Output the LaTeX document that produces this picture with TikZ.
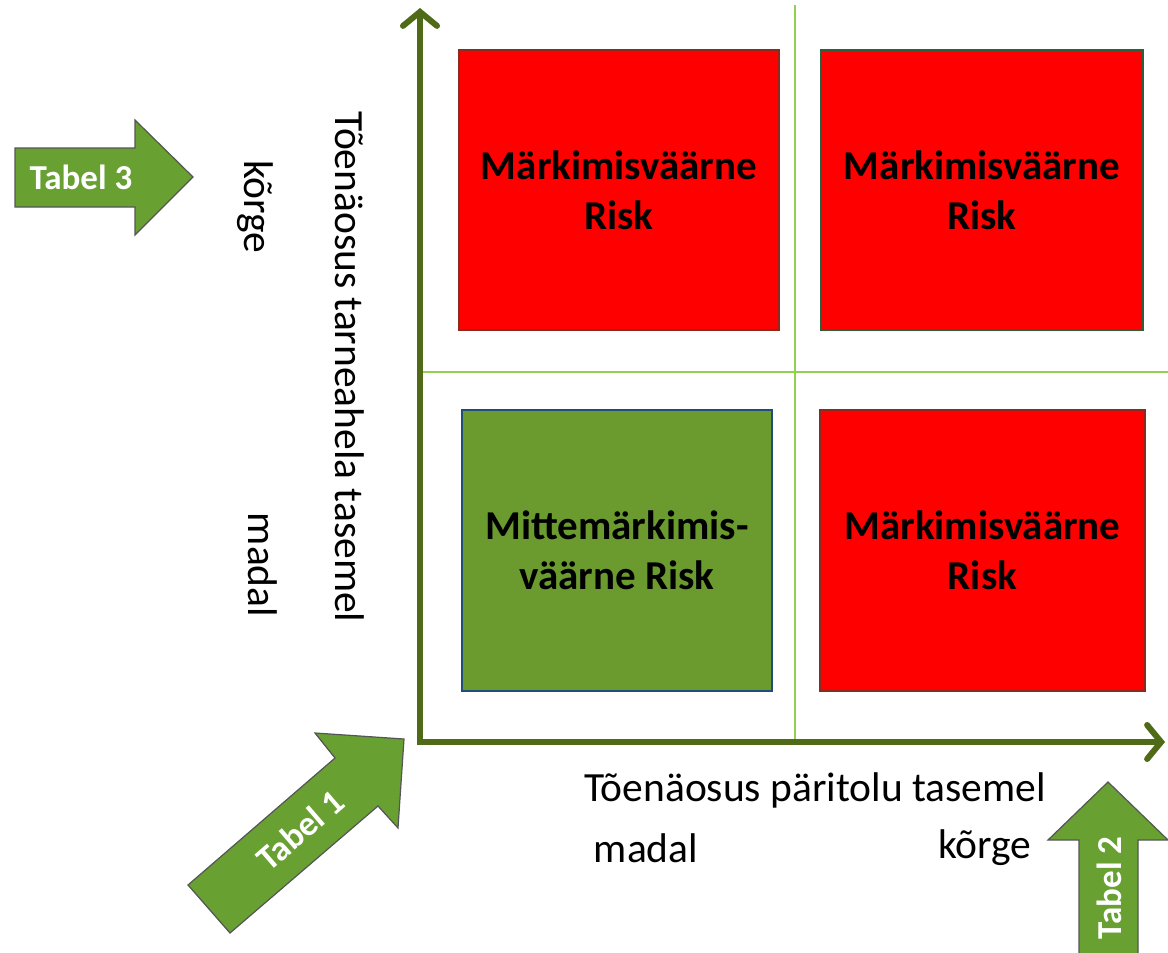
\documentclass[tikz,border=0pt]{standalone}
\usepackage{fontspec}
\setmainfont{Carlito}
\usetikzlibrary{arrows.meta}
\definecolor{axisgreen}{HTML}{4F6B17}
\definecolor{gridgreen}{HTML}{92D050}
\definecolor{boxred}{HTML}{FF0000}
\definecolor{rededge}{HTML}{8B2A20}
\definecolor{tealedge}{HTML}{2E5E3E}
\definecolor{boxgreen}{HTML}{6B9B2F}
\definecolor{blueedge}{HTML}{1F4E79}
\definecolor{arrowfill}{HTML}{68A032}
\definecolor{arrowedge}{HTML}{555555}
\tikzset{
  riskbox/.style={draw, line width=1.5pt, inner sep=0pt, align=center,
    font=\bfseries\fontsize{41}{50}\selectfont},
  axisline/.style={draw=axisgreen, line width=6pt,
    -{Straight Barb[length=14pt, width=34pt, line cap=round, line width=6pt]}},
  gridline/.style={draw=gridgreen, line width=1.2pt},
  bigarrow/.style={fill=arrowfill, draw=arrowedge, line width=1.2pt, line join=miter},
  arrowtext/.style={text=white, font=\bfseries\fontsize{35}{38}\selectfont},
  axislabel/.style={font=\fontsize{41.5}{46}\selectfont}
}
\begin{document}
\begin{tikzpicture}[x=1pt,y=-1pt]
\useasboundingbox (0,0) rectangle (1168,953);
% grid lines
\coordinate (gvtop) at (795,5);
\coordinate (gvbot) at (795,742);
\coordinate (ghl) at (420,372);
\coordinate (ghr) at (1168,372);
\draw[gridline] (gvtop) -- (gvbot);
\draw[gridline] (ghl) -- (ghr);
% boxes
\node[riskbox, fill=boxred, draw=rededge, minimum width=320pt, minimum height=280pt] (tl) at (619,190) {Märkimisväärne\\Risk};
\node[riskbox, fill=boxred, draw=tealedge, minimum width=322pt, minimum height=280pt] (tr) at (982,190) {Märkimisväärne\\Risk};
\node[riskbox, fill=boxgreen, draw=blueedge, minimum width=310pt, minimum height=281pt] (bl) at (617,550.5) {Mittemärkimis-\\väärne Risk};
\node[riskbox, fill=boxred, draw=rededge, minimum width=325pt, minimum height=281pt] (br) at (982.5,550.5) {Märkimisväärne\\Risk};
% axes
\coordinate (origin) at (420,742);
\coordinate (ytop) at (420,8);
\coordinate (xend) at (1165,742);
\draw[axisline] ([yshift=3pt]origin) -- (ytop);
\draw[axisline] ([xshift=-3pt]origin) -- (xend);
% axis labels
\node[axislabel, rotate=-90] (ylab) at (350,367) {Tõenäosus tarneahela tasemel};
\node[axislabel, rotate=-90] (yhigh) at (255,207) {kõrge};
\node[axislabel, rotate=-90] (ylow) at (263,565) {madal};
\node[axislabel] (xlab) at (815,790) {Tõenäosus päritolu tasemel};
\node[axislabel] (xlow) at (646,848) {madal};
\node[axislabel] (xhigh) at (985,848) {kõrge};
% Tabel 3 arrow
\draw[bigarrow] (15,148) -- (135,148) -- (135,120) -- (193,177) -- (135,235) -- (135,207) -- (15,207) -- cycle;
\node[arrowtext] (t3) at (81,177) {Tabel 3};
% Tabel 2 arrow
\draw[bigarrow] (1079,955) -- (1079,840) -- (1048,840) -- (1108,782) -- (1168,840) -- (1138,840) -- (1138,955);
\node[arrowtext, rotate=90] (t2) at (1109,888) {Tabel 2};
% Tabel 1 arrow
\draw[bigarrow] (188,885) -- (335,758) -- (315,733) -- (404,739) -- (398,828) -- (378,806) -- (230,933) -- cycle;
\node[arrowtext, rotate=40.8] (t1) at (300,830) {Tabel 1};
\end{tikzpicture}
\end{document}
